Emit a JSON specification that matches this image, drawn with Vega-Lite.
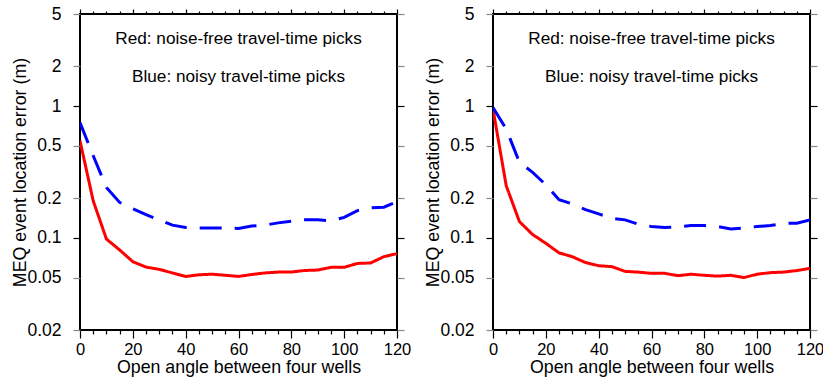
{
  "$schema": "https://vega.github.io/schema/vega-lite/v6.json",
  "padding": {"left": 10, "top": 4, "right": 0, "bottom": 5},
  "spacing": 11,
  "background": "white",
  "config": {
    "view": {"stroke": "black", "strokeWidth": 2},
    "font": "Liberation Sans",
    "axis": {"grid": false, "domain": false, "labelFont": "Liberation Sans", "titleFont": "Liberation Sans", "labelFontSize": 17.5, "titleFontSize": 17.8, "titleFontWeight": "normal", "labelColor": "black", "titleColor": "black", "tickWidth": 1.2, "labelFlush": false, "labelOverlap": false}
  },
  "datasets": {
    "left": [
      {"angle": 0, "error": 0.546, "series": "noise-free"},
      {"angle": 5, "error": 0.191, "series": "noise-free"},
      {"angle": 10, "error": 0.098, "series": "noise-free"},
      {"angle": 15, "error": 0.081, "series": "noise-free"},
      {"angle": 20, "error": 0.066, "series": "noise-free"},
      {"angle": 25, "error": 0.060, "series": "noise-free"},
      {"angle": 30, "error": 0.0577, "series": "noise-free"},
      {"angle": 35, "error": 0.0542, "series": "noise-free"},
      {"angle": 40, "error": 0.0510, "series": "noise-free"},
      {"angle": 45, "error": 0.0525, "series": "noise-free"},
      {"angle": 50, "error": 0.053, "series": "noise-free"},
      {"angle": 55, "error": 0.052, "series": "noise-free"},
      {"angle": 60, "error": 0.051, "series": "noise-free"},
      {"angle": 65, "error": 0.0527, "series": "noise-free"},
      {"angle": 70, "error": 0.0542, "series": "noise-free"},
      {"angle": 75, "error": 0.055, "series": "noise-free"},
      {"angle": 80, "error": 0.055, "series": "noise-free"},
      {"angle": 85, "error": 0.0566, "series": "noise-free"},
      {"angle": 90, "error": 0.057, "series": "noise-free"},
      {"angle": 95, "error": 0.0598, "series": "noise-free"},
      {"angle": 100, "error": 0.0598, "series": "noise-free"},
      {"angle": 105, "error": 0.064, "series": "noise-free"},
      {"angle": 110, "error": 0.0645, "series": "noise-free"},
      {"angle": 115, "error": 0.072, "series": "noise-free"},
      {"angle": 120, "error": 0.076, "series": "noise-free"},
      {"angle": 0, "error": 0.75, "series": "noisy"},
      {"angle": 5, "error": 0.42, "series": "noisy"},
      {"angle": 10, "error": 0.241, "series": "noisy"},
      {"angle": 15, "error": 0.186, "series": "noisy"},
      {"angle": 20, "error": 0.166, "series": "noisy"},
      {"angle": 25, "error": 0.150, "series": "noisy"},
      {"angle": 30, "error": 0.137, "series": "noisy"},
      {"angle": 35, "error": 0.125, "series": "noisy"},
      {"angle": 40, "error": 0.120, "series": "noisy"},
      {"angle": 45, "error": 0.119, "series": "noisy"},
      {"angle": 50, "error": 0.119, "series": "noisy"},
      {"angle": 55, "error": 0.119, "series": "noisy"},
      {"angle": 60, "error": 0.118, "series": "noisy"},
      {"angle": 65, "error": 0.123, "series": "noisy"},
      {"angle": 70, "error": 0.125, "series": "noisy"},
      {"angle": 75, "error": 0.130, "series": "noisy"},
      {"angle": 80, "error": 0.134, "series": "noisy"},
      {"angle": 85, "error": 0.137, "series": "noisy"},
      {"angle": 90, "error": 0.137, "series": "noisy"},
      {"angle": 95, "error": 0.135, "series": "noisy"},
      {"angle": 100, "error": 0.143, "series": "noisy"},
      {"angle": 105, "error": 0.161, "series": "noisy"},
      {"angle": 110, "error": 0.169, "series": "noisy"},
      {"angle": 115, "error": 0.171, "series": "noisy"},
      {"angle": 120, "error": 0.188, "series": "noisy"}
    ],
    "right": [
      {"angle": 0, "error": 0.95, "series": "noise-free"},
      {"angle": 5, "error": 0.249, "series": "noise-free"},
      {"angle": 10, "error": 0.133, "series": "noise-free"},
      {"angle": 15, "error": 0.106, "series": "noise-free"},
      {"angle": 20, "error": 0.091, "series": "noise-free"},
      {"angle": 25, "error": 0.077, "series": "noise-free"},
      {"angle": 30, "error": 0.072, "series": "noise-free"},
      {"angle": 35, "error": 0.065, "series": "noise-free"},
      {"angle": 40, "error": 0.0615, "series": "noise-free"},
      {"angle": 45, "error": 0.0605, "series": "noise-free"},
      {"angle": 50, "error": 0.0557, "series": "noise-free"},
      {"angle": 55, "error": 0.055, "series": "noise-free"},
      {"angle": 60, "error": 0.0538, "series": "noise-free"},
      {"angle": 65, "error": 0.0538, "series": "noise-free"},
      {"angle": 70, "error": 0.0517, "series": "noise-free"},
      {"angle": 75, "error": 0.053, "series": "noise-free"},
      {"angle": 80, "error": 0.052, "series": "noise-free"},
      {"angle": 85, "error": 0.0513, "series": "noise-free"},
      {"angle": 90, "error": 0.052, "series": "noise-free"},
      {"angle": 95, "error": 0.050, "series": "noise-free"},
      {"angle": 100, "error": 0.053, "series": "noise-free"},
      {"angle": 105, "error": 0.0545, "series": "noise-free"},
      {"angle": 110, "error": 0.055, "series": "noise-free"},
      {"angle": 115, "error": 0.0565, "series": "noise-free"},
      {"angle": 120, "error": 0.0587, "series": "noise-free"},
      {"angle": 0, "error": 0.975, "series": "noisy"},
      {"angle": 5, "error": 0.67, "series": "noisy"},
      {"angle": 10, "error": 0.375, "series": "noisy"},
      {"angle": 15, "error": 0.314, "series": "noisy"},
      {"angle": 20, "error": 0.253, "series": "noisy"},
      {"angle": 25, "error": 0.195, "series": "noisy"},
      {"angle": 30, "error": 0.181, "series": "noisy"},
      {"angle": 35, "error": 0.164, "series": "noisy"},
      {"angle": 40, "error": 0.152, "series": "noisy"},
      {"angle": 45, "error": 0.141, "series": "noisy"},
      {"angle": 50, "error": 0.137, "series": "noisy"},
      {"angle": 55, "error": 0.127, "series": "noisy"},
      {"angle": 60, "error": 0.122, "series": "noisy"},
      {"angle": 65, "error": 0.120, "series": "noisy"},
      {"angle": 70, "error": 0.121, "series": "noisy"},
      {"angle": 75, "error": 0.124, "series": "noisy"},
      {"angle": 80, "error": 0.124, "series": "noisy"},
      {"angle": 85, "error": 0.122, "series": "noisy"},
      {"angle": 90, "error": 0.117, "series": "noisy"},
      {"angle": 95, "error": 0.119, "series": "noisy"},
      {"angle": 100, "error": 0.122, "series": "noisy"},
      {"angle": 105, "error": 0.124, "series": "noisy"},
      {"angle": 110, "error": 0.129, "series": "noisy"},
      {"angle": 115, "error": 0.129, "series": "noisy"},
      {"angle": 120, "error": 0.137, "series": "noisy"}
    ],
    "notes": [
      {"angle": 60, "error": 3.24, "label": "Red: noise-free travel-time picks"},
      {"angle": 60, "error": 1.65, "label": "Blue: noisy travel-time picks"}
    ]
  },
  "hconcat": [
    {
      "width": 317,
      "height": 316,
      "resolve": {"axis": {"x": "independent", "y": "independent"}},
      "layer": [
        {
          "data": {"name": "left"},
          "mark": {"type": "line", "strokeWidth": 3, "strokeCap": "butt", "clip": true},
          "encoding": {
            "x": {"field": "angle", "type": "quantitative", "scale": {"domain": [0, 120], "nice": false, "zero": false},
              "axis": {"orient": "bottom", "title": "Open angle between four wells", "values": [0,5,10,15,20,25,30,35,40,45,50,55,60,65,70,75,80,85,90,95,100,105,110,115,120],
                "tickSize": {"condition": {"test": "datum.value % 20 === 0", "value": 8}, "value": 4}, "labelFontSize": 16.5,
                "labelExpr": "datum.value % 20 === 0 ? datum.label : ''", "labelPadding": 3, "titlePadding": 1, "tickColor": "black"}},
            "y": {"field": "error", "type": "quantitative", "scale": {"type": "log", "domain": [0.02, 5], "nice": false},
              "axis": {"orient": "left", "title": "MEQ event location error (m)", "values": [0.02,0.05,0.1,0.2,0.5,1,2,5], "format": "~g", "tickSize": 7, "labelPadding": 12, "titlePadding": -3,
                "tickColor": {"condition": {"test": "datum.value === 1 || datum.value === 0.1", "value": "black"}, "value": "#888888"}}},
            "color": {"field": "series", "type": "nominal", "scale": {"domain": ["noise-free", "noisy"], "range": ["#ff0000", "#0000ff"]}, "legend": null},
            "strokeDash": {"field": "series", "type": "nominal", "scale": {"domain": ["noise-free", "noisy"], "range": [[1, 0], [22, 13]]}, "legend": null}
          }
        },
        {
          "data": {"name": "notes"},
          "mark": {"type": "text", "fontSize": 17.2, "font": "Liberation Sans", "align": "center", "baseline": "middle", "color": "black"},
          "encoding": {
            "x": {"field": "angle", "type": "quantitative", "scale": {"domain": [0, 120], "nice": false, "zero": false},
              "axis": {"orient": "top", "title": null, "labels": false, "values": [0,5,10,15,20,25,30,35,40,45,50,55,60,65,70,75,80,85,90,95,100,105,110,115,120],
                "tickSize": {"condition": {"test": "datum.value % 20 === 0", "value": 5}, "value": 3}, "tickColor": "black"}},
            "y": {"field": "error", "type": "quantitative", "scale": {"type": "log", "domain": [0.02, 5], "nice": false},
              "axis": {"orient": "right", "title": null, "labels": false, "values": [0.02,0.05,0.1,0.2,0.5,1,2,5], "tickSize": 7,
                "tickColor": {"condition": {"test": "datum.value === 1 || datum.value === 0.1", "value": "black"}, "value": "#888888"}}},
            "text": {"field": "label", "type": "nominal"}
          }
        }
      ]
    },
    {
      "width": 317,
      "height": 316,
      "resolve": {"axis": {"x": "independent", "y": "independent"}},
      "layer": [
        {
          "data": {"name": "right"},
          "mark": {"type": "line", "strokeWidth": 3, "strokeCap": "butt", "clip": true},
          "encoding": {
            "x": {"field": "angle", "type": "quantitative", "scale": {"domain": [0, 120], "nice": false, "zero": false},
              "axis": {"orient": "bottom", "title": "Open angle between four wells", "values": [0,5,10,15,20,25,30,35,40,45,50,55,60,65,70,75,80,85,90,95,100,105,110,115,120],
                "tickSize": {"condition": {"test": "datum.value % 20 === 0", "value": 8}, "value": 4}, "labelFontSize": 16.5,
                "labelExpr": "datum.value % 20 === 0 ? datum.label : ''", "labelPadding": 3, "titlePadding": 1, "tickColor": "black"}},
            "y": {"field": "error", "type": "quantitative", "scale": {"type": "log", "domain": [0.02, 5], "nice": false},
              "axis": {"orient": "left", "title": "MEQ event location error (m)", "values": [0.02,0.05,0.1,0.2,0.5,1,2,5], "format": "~g", "tickSize": 7, "labelPadding": 12, "titlePadding": -3,
                "tickColor": {"condition": {"test": "datum.value === 1 || datum.value === 0.1", "value": "black"}, "value": "#888888"}}},
            "color": {"field": "series", "type": "nominal", "scale": {"domain": ["noise-free", "noisy"], "range": ["#ff0000", "#0000ff"]}, "legend": null},
            "strokeDash": {"field": "series", "type": "nominal", "scale": {"domain": ["noise-free", "noisy"], "range": [[1, 0], [22, 13]]}, "legend": null}
          }
        },
        {
          "data": {"name": "notes"},
          "mark": {"type": "text", "fontSize": 17.2, "font": "Liberation Sans", "align": "center", "baseline": "middle", "color": "black"},
          "encoding": {
            "x": {"field": "angle", "type": "quantitative", "scale": {"domain": [0, 120], "nice": false, "zero": false},
              "axis": {"orient": "top", "title": null, "labels": false, "values": [0,5,10,15,20,25,30,35,40,45,50,55,60,65,70,75,80,85,90,95,100,105,110,115,120],
                "tickSize": {"condition": {"test": "datum.value % 20 === 0", "value": 5}, "value": 3}, "tickColor": "black"}},
            "y": {"field": "error", "type": "quantitative", "scale": {"type": "log", "domain": [0.02, 5], "nice": false},
              "axis": {"orient": "right", "title": null, "labels": false, "values": [0.02,0.05,0.1,0.2,0.5,1,2,5], "tickSize": 7,
                "tickColor": {"condition": {"test": "datum.value === 1 || datum.value === 0.1", "value": "black"}, "value": "#888888"}}},
            "text": {"field": "label", "type": "nominal"}
          }
        }
      ]
    }
  ]
}
